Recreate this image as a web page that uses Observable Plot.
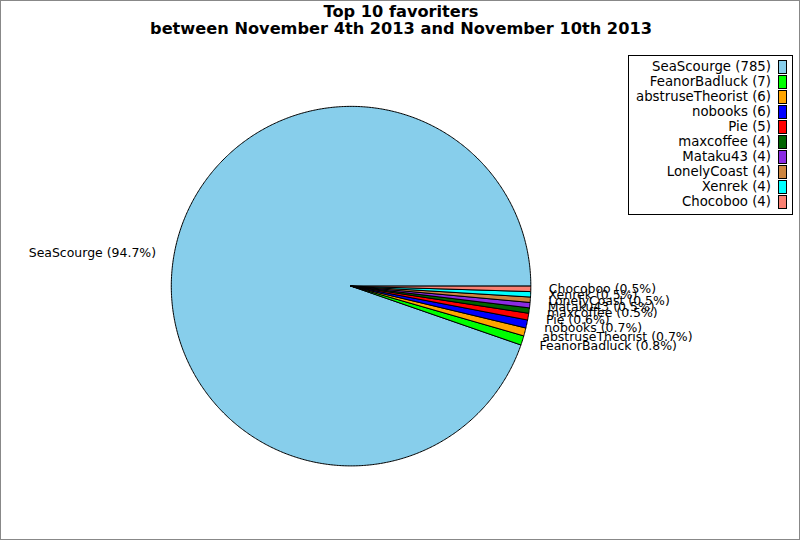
<!DOCTYPE html>
<html><head><meta charset="utf-8">
<script src="https://cdn.jsdelivr.net/npm/d3@7"></script>
<script src="https://cdn.jsdelivr.net/npm/@observablehq/plot@0.6"></script>
<style>
body{margin:0;background:#fff;font-family:"DejaVu Sans",sans-serif;}
#wrap{position:relative;width:800px;height:540px;box-sizing:border-box;border:1px solid #888;overflow:hidden;}
#title{position:absolute;left:0;top:2px;width:800px;text-align:center;font-weight:bold;font-size:16.2px;line-height:17px;color:#000;}
#chart{position:absolute;left:-1px;top:-1px;}
#legend{position:absolute;left:627px;top:54px;width:165px;height:160px;border:1px solid #000;background:#fff;box-sizing:border-box;}
.row{position:absolute;right:0;height:15px;font-size:13.3px;line-height:15px;}
.row span.t{position:absolute;right:21px;white-space:nowrap;}
.row span.s{position:absolute;right:5px;top:1px;width:7px;height:12px;border:1px solid #000;}
</style></head>
<body>
<div id="wrap">
<div id="chart"></div>
<div id="title">Top 10 favoriters<br>between November 4th 2013 and November 10th 2013</div>
<div id="legend"></div>
</div>
<script>
const names = ["SeaScourge","FeanorBadluck","abstruseTheorist","nobooks","Pie","maxcoffee","Mataku43","LonelyCoast","Xenrek","Chocoboo"];
const counts = [785,7,6,6,5,4,4,4,4,4];
const colors = ["#87CEEB","#00FF00","#FFA500","#0000FF","#FF0000","#006400","#8A2BE2","#CD853F","#00FFFF","#FA8072"];

const total = d3.sum(counts);
let cum = 0;
const slices = names.map((n,i)=>{
  const a0 = 2*Math.PI*cum/total; cum += counts[i];
  const a1 = 2*Math.PI*cum/total;
  return {name:n, count:counts[i], pct:100*counts[i]/total, a0, a1, mid:(a0+a1)/2};
});
const poly = [];
for (const s of slices) {
  poly.push({name:s.name, x:0, y:0});
  const steps = Math.max(2, Math.ceil((s.a1-s.a0)/(Math.PI/360)));
  for (let k=0;k<=steps;k++){
    const a = s.a0 + (s.a1-s.a0)*k/steps;
    poly.push({name:s.name, x:Math.cos(a), y:Math.sin(a)});
  }
  poly.push({name:s.name, x:0, y:0});
}
const labels = slices.map(s=>({name:s.name, label:`${s.name} (${s.pct.toFixed(1)}%)`, x:1.1*Math.cos(s.mid), y:1.1*Math.sin(s.mid)}));

const chart = Plot.plot({
  width:800, height:540, margin:0,
  x:{domain:[-1,1], range:[171,531], axis:null},
  y:{domain:[-1,1], range:[466,106], axis:null},
  color:{domain:names, range:colors},
  style:{fontFamily:"DejaVu Sans", background:"transparent"},
  marks:[
    Plot.line(poly,{x:"x",y:"y",z:"name",fill:"name",stroke:"#000",strokeWidth:1,strokeLinejoin:"miter",shapeRendering:"crispEdges"}),
    Plot.text(labels.filter(d=>d.x>=0),{x:"x",y:"y",text:"label",textAnchor:"start",fontSize:12.5,fill:"#000"}),
    Plot.text(labels.filter(d=>d.x<0),{x:"x",y:"y",text:"label",textAnchor:"end",fontSize:12.5,fill:"#000"})
  ]
});
document.getElementById("chart").appendChild(chart);

const lg = document.getElementById("legend");
names.forEach((n,i)=>{
  const r = document.createElement("div");
  r.className="row"; r.style.top=(3+15*i)+"px"; r.style.width="100%";
  r.innerHTML = `<span class="t">${n} (${counts[i]})</span><span class="s" style="background:${colors[i]}"></span>`;
  lg.appendChild(r);
});
</script>
</body></html>
